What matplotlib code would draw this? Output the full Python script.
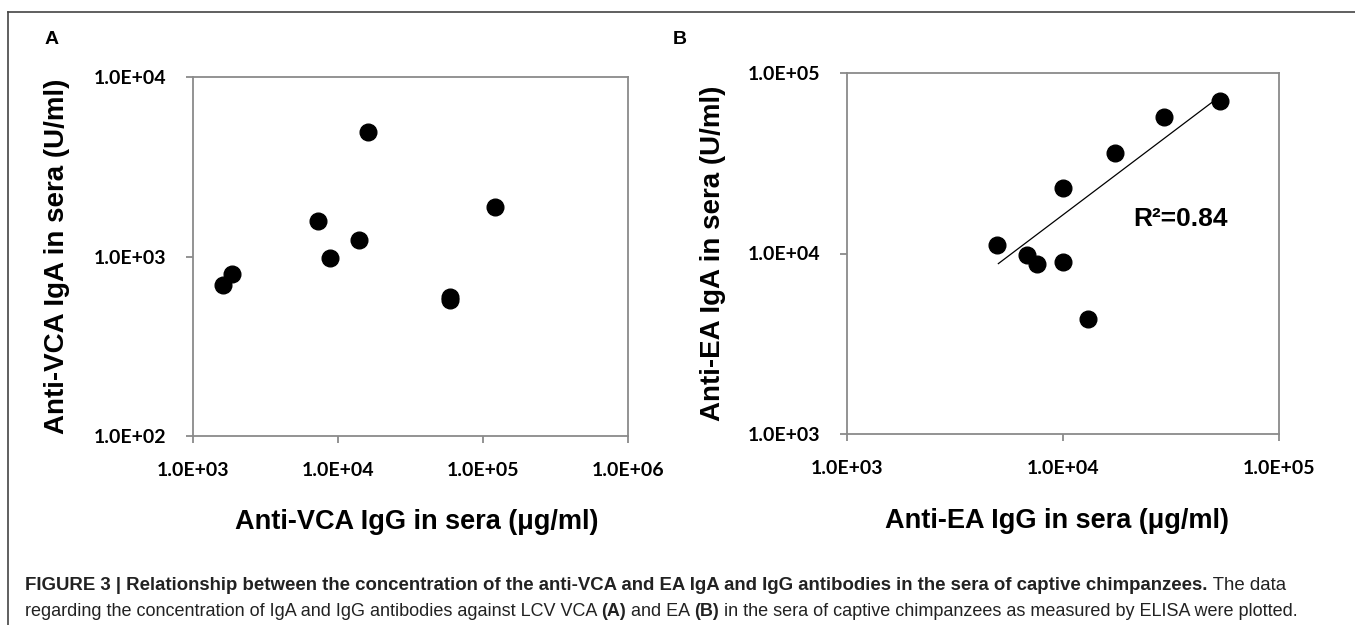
import matplotlib
matplotlib.use("Agg")
import matplotlib.pyplot as plt
from matplotlib.lines import Line2D
from matplotlib.ticker import FixedLocator, FuncFormatter, NullLocator

# panel A: anti-VCA IgG (x) vs IgA (y)
vca_igg = [1610, 1857, 7278, 8770, 13960, 16200, 58900, 58900, 121000]
vca_iga = [694, 799, 1577, 977, 1241, 4955, 597, 572, 1888]

# panel B: anti-EA IgG (x) vs IgA (y)
ea_igg = [4966, 6790, 7550, 10040, 10040, 13100, 17400, 29350, 53300]
ea_iga = [11120, 9786, 8790, 8980, 23150, 4355, 35900, 57400, 70200]

# trend line of panel B, end points
trend_x = [5020, 49600]
trend_y = [8790, 69600]
r2_text = "R\u00b2=0.84"

a_xticks = [1e3, 1e4, 1e5, 1e6]
a_yticks = [1e2, 1e3, 1e4]
b_xticks = [1e3, 1e4, 1e5]
b_yticks = [1e3, 1e4, 1e5]

ARIAL = "Liberation Sans"
CALIBRI = "Lato"
SPINE = "#8a8a8a"

fig = plt.figure(figsize=(13.55, 6.25), dpi=100)


def sci(v, _pos):
    return f"{v:.1E}"


def setup(ax, xt, yt, xlabel, ylabel, ylab_x, xlab_x):
    ax.set_xscale("log")
    ax.set_yscale("log")
    ax.set_xlim(xt[0], xt[-1])
    ax.set_ylim(yt[0], yt[-1])
    ax.xaxis.set_major_locator(FixedLocator(xt))
    ax.yaxis.set_major_locator(FixedLocator(yt))
    ax.xaxis.set_minor_locator(NullLocator())
    ax.yaxis.set_minor_locator(NullLocator())
    ax.xaxis.set_major_formatter(FuncFormatter(sci))
    ax.yaxis.set_major_formatter(FuncFormatter(sci))
    for sp in ax.spines.values():
        sp.set_color(SPINE)
        sp.set_linewidth(1.3)
    ax.tick_params(axis="both", direction="out", length=5, width=1.3,
                   color=SPINE, labelsize=14, pad=14)
    for lab in ax.get_xticklabels() + ax.get_yticklabels():
        lab.set_fontfamily(CALIBRI)
        lab.set_fontweight("bold")
    ax.set_xlabel(xlabel, fontsize=19.5, fontweight="bold", family=ARIAL)
    ax.set_ylabel(ylabel, fontsize=20, fontweight="bold", family=ARIAL)
    ax.xaxis.label.set_verticalalignment("center")
    ax.yaxis.label.set_verticalalignment("center")
    ax.xaxis.set_label_coords(xlab_x, -0.24)
    ax.yaxis.set_label_coords(ylab_x, 0.5)


ax_a = fig.add_axes([0.1424, 0.3024, 0.3211, 0.5744])
ax_a.plot(vca_igg, vca_iga, "o", color="black", ms=12, zorder=3)
setup(ax_a, a_xticks, a_yticks, "Anti-VCA IgG in sera (\u03bcg/ml)",
      "Anti-VCA IgA in sera (U/ml)", -0.313, 0.515)

ax_b = fig.add_axes([0.6251, 0.3056, 0.3188, 0.5776])
ax_b.plot(ea_igg, ea_iga, "o", color="black", ms=12, zorder=3)
ax_b.plot(trend_x, trend_y, color="black", lw=0.9, zorder=2)
ax_b.text(0.663, 0.595, r2_text, transform=ax_b.transAxes, fontsize=19,
          fontweight="bold", family=ARIAL, ha="left", va="center")
setup(ax_b, b_xticks, b_yticks, "Anti-EA IgG in sera (\u03bcg/ml)",
      "Anti-EA IgA in sera (U/ml)", -0.310, 0.486)

# panel letters
fig.text(0.0332, 0.936, "A", fontsize=14, fontweight="bold", family=ARIAL,
         va="center")
fig.text(0.4967, 0.936, "B", fontsize=14, fontweight="bold", family=ARIAL,
         va="center")

# outer frame (top and left edges)
fig.add_artist(Line2D([8 / 1355, 1], [1 - 12 / 625, 1 - 12 / 625],
                      transform=fig.transFigure, color="#444444", lw=1.2))
fig.add_artist(Line2D([8 / 1355, 8 / 1355], [0, 1 - 12 / 625],
                      transform=fig.transFigure, color="#444444", lw=1.2))

# caption, drawn as runs of bold and regular text
renderer = fig.canvas.get_renderer()


def draw_runs(x, y, runs, size):
    for s, w in runs:
        t = fig.text(x, y, s, fontsize=size, fontweight=w, family=ARIAL,
                     color="#222222", va="center", ha="left")
        bb = t.get_window_extent(renderer)
        x = fig.transFigure.inverted().transform((bb.x1, 0))[0]


draw_runs(25 / 1355, 1 - 585 / 625, [
    ("FIGURE 3 | Relationship between the concentration of the anti-VCA and "
     "EA IgA and IgG antibodies in the sera of captive chimpanzees.", "bold"),
    (" The data", "normal"),
], 13.4)
draw_runs(25 / 1355, 1 - 611 / 625, [
    ("regarding the concentration of IgA and IgG antibodies against LCV VCA ",
     "normal"),
    ("(A)", "bold"),
    (" and EA ", "normal"),
    ("(B)", "bold"),
    (" in the sera of captive chimpanzees as measured by ELISA were plotted.",
     "normal"),
], 12.95)

fig.savefig("out.png", dpi=100)
